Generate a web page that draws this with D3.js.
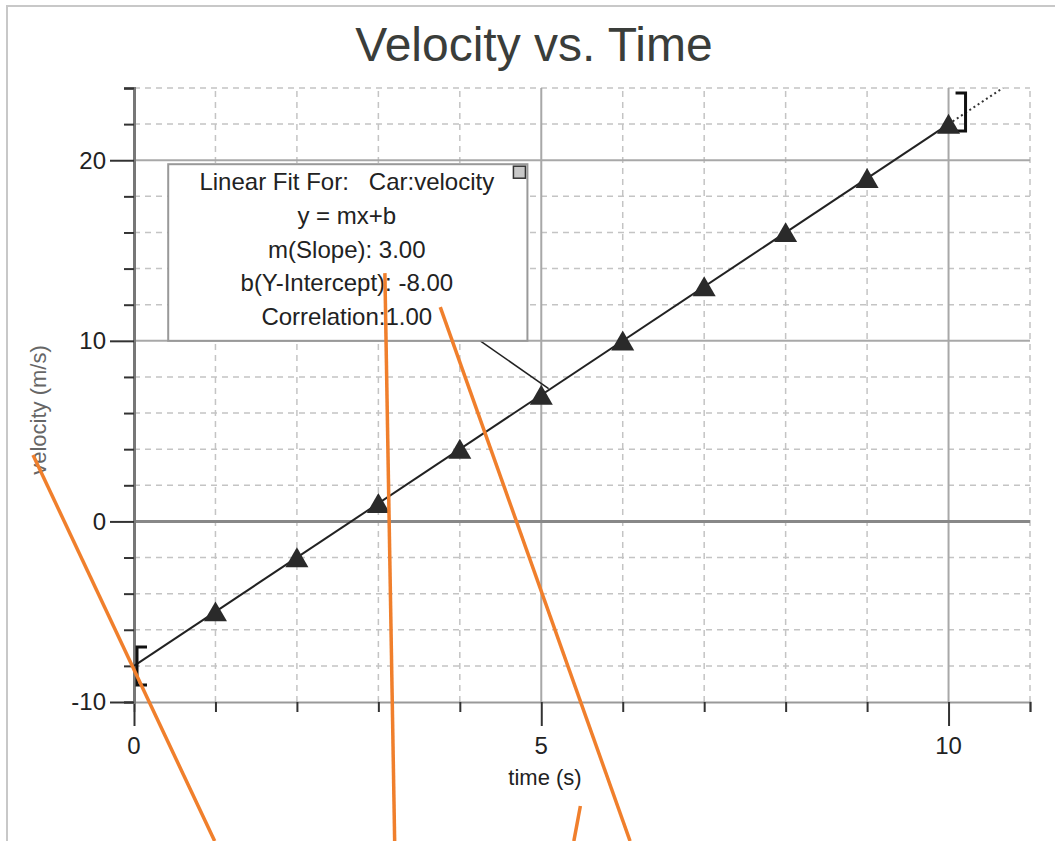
<html>
<head>
<style>
  body { margin: 0; background: #fff; }
  svg text { font-family: "Liberation Sans", Arial, sans-serif; }
</style>
</head>
<body>
<script src="https://d3js.org/d3.v7.min.js"></script>
<svg width="1055" height="841"></svg>
<script>
// data
var times = [1, 2, 3, 4, 5, 6, 7, 8, 9, 10];
var velocities = [-5, -2, 1, 4, 7, 10, 13, 16, 19, 22];
var slope = 3.00, intercept = -8.00, correlation = 1.00;
var fitRange = [0, 10];
var xTickLabels = [0, 5, 10];
var yTickLabels = [-10, 0, 10, 20];
var fitLines = ["Linear Fit For:   Car:velocity", "y = mx+b",
  "m(Slope): " + slope.toFixed(2), "b(Y-Intercept): " + intercept.toFixed(2),
  "Correlation:" + correlation.toFixed(2)];
// orange pen strokes drawn over the graph, in (time, velocity) units
var penStrokes = [
  [[-1.24, 3.68], [0.99, -17.7]],
  [[3.08, 13.75], [3.20, -17.7]],
  [[3.76, 11.87], [6.09, -17.7]],
  [[5.48, -15.76], [5.40, -17.7]]
];

var svg = d3.select("svg");
var x = d3.scaleLinear().domain([0, 11]).range([134, 1030]);
var y = d3.scaleLinear().domain([-10, 24]).range([702, 88]);

// outer frame
svg.append("path").attr("d", "M7,841V6H1055").attr("fill", "none")
  .attr("stroke", "#c8c8c8").attr("stroke-width", 2);

svg.append("text").attr("x", 534).attr("y", 61).attr("text-anchor", "middle")
  .attr("font-size", 48).attr("fill", "#3a3d3a").text("Velocity vs. Time");

var g = svg.append("g");

// grid
var xMinor = d3.range(1, 12).filter(function(d) { return d % 5 != 0; });
var yMinor = d3.range(-8, 25, 2).filter(function(d) { return d % 10 != 0; });
g.selectAll(".vgrid").data(xMinor).enter().append("line")
  .attr("x1", x).attr("x2", x).attr("y1", y(-10)).attr("y2", y(24))
  .attr("stroke", "#c4c4c4").attr("stroke-width", 1.5).attr("stroke-dasharray", "6,5");
g.selectAll(".hgrid").data(yMinor).enter().append("line")
  .attr("y1", y).attr("y2", y).attr("x1", x(0)).attr("x2", x(11))
  .attr("stroke", "#c4c4c4").attr("stroke-width", 1.5).attr("stroke-dasharray", "6,5");
g.selectAll(".vmaj").data([5, 10]).enter().append("line")
  .attr("x1", x).attr("x2", x).attr("y1", y(-10)).attr("y2", y(24))
  .attr("stroke", "#a8a8a8").attr("stroke-width", 2);
g.selectAll(".hmaj").data([10, 20]).enter().append("line")
  .attr("y1", y).attr("y2", y).attr("x1", x(0)).attr("x2", x(11))
  .attr("stroke", "#a8a8a8").attr("stroke-width", 2);
g.append("line").attr("x1", x(0)).attr("x2", x(11)).attr("y1", y(0)).attr("y2", y(0))
  .attr("stroke", "#888").attr("stroke-width", 3);

// axes
var xAxis = g.append("g").attr("transform", "translate(0," + y(-10) + ")")
  .call(d3.axisBottom(x).tickValues(d3.range(0, 12)).tickSize(10).tickFormat(""));
var yAxis = g.append("g").attr("transform", "translate(" + x(0) + ",0)")
  .call(d3.axisLeft(y).tickValues(d3.range(-10, 25, 2)).tickSize(10).tickFormat(""));
xAxis.select(".domain").attr("stroke", "#999").attr("stroke-width", 2);
yAxis.select(".domain").attr("stroke", "#777").attr("stroke-width", 3);
g.selectAll(".tick line").attr("stroke", "#333").attr("stroke-width", 2);
xAxis.selectAll(".tick").filter(function(d) { return d % 5 == 0; }).select("line").attr("y2", 24);
yAxis.selectAll(".tick").filter(function(d) { return d % 10 == 0; }).select("line").attr("x2", -24);

g.selectAll(".xl").data(xTickLabels).enter().append("text")
  .attr("x", x).attr("y", 754).attr("text-anchor", "middle")
  .attr("font-size", 24).attr("fill", "#222").text(function(d) { return d; });
g.selectAll(".yl").data(yTickLabels).enter().append("text")
  .attr("x", 106).attr("y", y).attr("dy", "0.35em").attr("text-anchor", "end")
  .attr("font-size", 24).attr("fill", "#222").text(function(d) { return d; });

svg.append("text").attr("x", 545).attr("y", 785).attr("text-anchor", "middle")
  .attr("font-size", 22).attr("fill", "#222").text("time (s)");
svg.append("text").attr("transform", "translate(46,410) rotate(-90)").attr("text-anchor", "middle")
  .attr("font-size", 22).attr("fill", "#666").text("velocity (m/s)");

// fit line: solid over the fit range, dotted beyond it
var fit = function(t) { return slope * t + intercept; };
var tEnd = (24 - intercept) / slope;
g.append("line").attr("x1", x(fitRange[0])).attr("y1", y(fit(fitRange[0])))
  .attr("x2", x(fitRange[1])).attr("y2", y(fit(fitRange[1])))
  .attr("stroke", "#222").attr("stroke-width", 2);
g.append("line").attr("x1", x(fitRange[1])).attr("y1", y(fit(fitRange[1])))
  .attr("x2", x(tEnd)).attr("y2", y(24))
  .attr("stroke", "#333").attr("stroke-width", 2).attr("stroke-dasharray", "2,3");

// range brackets
var bh = 19;
var lx = x(fitRange[0]) + 3, ly = y(fit(fitRange[0]));
g.append("path").attr("d", "M" + (lx + 10) + "," + (ly - bh) + "H" + lx + "V" + (ly + bh) + "H" + (lx + 10))
  .attr("fill", "none").attr("stroke", "#111").attr("stroke-width", 3);
var rx = x(fitRange[1]) + 17, ry = y(fit(fitRange[1])) - 12;
g.append("path").attr("d", "M" + (rx - 10) + "," + (ry - bh) + "H" + rx + "V" + (ry + bh) + "H" + (rx - 10))
  .attr("fill", "none").attr("stroke", "#111").attr("stroke-width", 3);

// data points
g.selectAll(".pt").data(times).enter().append("path")
  .attr("d", d3.symbol(d3.symbolTriangle).size(230))
  .attr("transform", function(d, i) { return "translate(" + x(d) + "," + (y(velocities[i]) + 3) + ")"; })
  .attr("fill", "#2a2a2a");

// fit annotation box
var bx0 = x(0.42), bx1 = x(4.83), by0 = y(19.78), by1 = y(10);
g.append("line").attr("x1", x(4.25)).attr("y1", y(10)).attr("x2", x(5.09)).attr("y2", y(7.35))
  .attr("stroke", "#222").attr("stroke-width", 1.5);
g.append("rect").attr("x", bx0).attr("y", by0).attr("width", bx1 - bx0).attr("height", by1 - by0)
  .attr("fill", "#fff").attr("stroke", "#999").attr("stroke-width", 2);
g.append("rect").attr("x", bx1 - 14).attr("y", by0 + 2).attr("width", 12).attr("height", 12)
  .attr("fill", "#c8c8c8").attr("stroke", "#333").attr("stroke-width", 1.5);
g.selectAll(".bt").data(fitLines).enter().append("text")
  .attr("x", (bx0 + bx1) / 2 - 1).attr("y", function(d, i) { return by0 + 26 + i * 33.7; })
  .attr("text-anchor", "middle").attr("font-size", 24).attr("fill", "#222")
  .style("white-space", "pre").text(function(d) { return d; });

// orange pen strokes
svg.selectAll(".pen").data(penStrokes).enter().append("line")
  .attr("x1", function(d) { return x(d[0][0]); }).attr("y1", function(d) { return y(d[0][1]); })
  .attr("x2", function(d) { return x(d[1][0]); }).attr("y2", function(d) { return y(d[1][1]); })
  .attr("stroke", "#f07f2c").attr("stroke-width", 3.5);
</script>
</body>
</html>
